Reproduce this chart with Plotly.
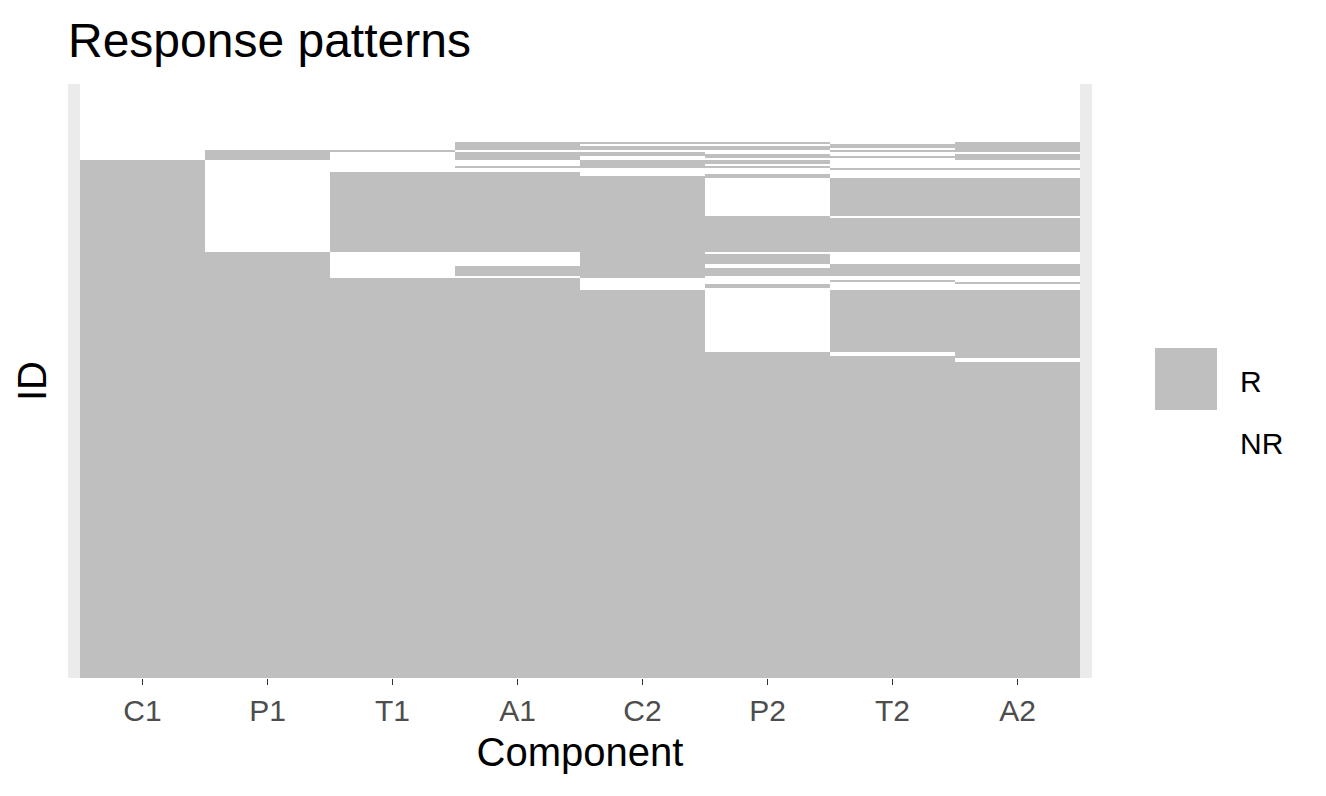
import plotly.graph_objects as go

# ---- data ----
components = ["C1", "P1", "T1", "A1", "C2", "P2", "T2", "A2"]
# groups of IDs (top to bottom): number of IDs and response pattern (1 = R, 0 = NR)
group_counts = [29, 1, 1, 1, 1, 1, 1, 1, 1, 1, 2, 1, 1, 1, 1, 1, 1, 1, 19, 1, 17,
                1, 5, 1, 1, 4, 1, 1, 1, 1, 2, 1, 31, 2, 1, 2, 158]
group_patterns = ["00000000", "00011101", "00010011", "00011111", "00011101",
                  "01100011", "01011000", "01011101", "01010111", "01010001",
                  "10001100", "10001000", "10011100", "10000011", "10000000",
                  "10110000", "10110100", "10111100", "10111011", "10111100",
                  "10111111", "11001000", "11001100", "11001011", "11011011",
                  "11011111", "11001000", "11110000", "11110010", "11110001",
                  "11110100", "11110000", "11111011", "11111101", "11111111",
                  "11111110", "11111111"]
legend_labels = ["R", "NR"]

# ---- build matrix ----
z = []
for cnt, pat in zip(group_counts, group_patterns):
    for _ in range(cnt):
        z.append([int(c) for c in pat])
n_ids = len(z)
ids = list(range(1, n_ids + 1))

GREY = "#BFBFBF"
OFF = 8  # page body margin
W, H = 1326 - OFF, 796 - OFF
L, R, T, B = 68 - OFF, 1092 - OFF, 84 - OFF, 678 - OFF

fig = go.Figure()
fig.add_trace(go.Heatmap(
    z=z, x=components, y=ids,
    colorscale=[[0, "#FFFFFF"], [0.5, "#FFFFFF"], [0.5, GREY], [1, GREY]],
    zmin=0, zmax=1, showscale=False, xgap=0, ygap=0,
    hovertemplate="ID %{y}<br>%{x}: %{z}<extra></extra>",
))

ex = 12 / 125.0
fig.update_xaxes(
    range=[-0.5 - ex, len(components) - 0.5 + ex],
    showgrid=False, zeroline=False, showline=False,
    ticks="outside", ticklen=6, tickwidth=1.2, tickcolor="#333333",
    tickfont=dict(size=30, color="#4D4D4D", family="Liberation Sans"),
    title=dict(text="Component", font=dict(size=40, color="#000000", family="Liberation Sans"), standoff=11),
)
fig.update_yaxes(
    range=[n_ids + 0.5, 0.5],
    showgrid=False, zeroline=False, showline=False,
    showticklabels=False, ticks="",
    title=dict(text="ID", font=dict(size=40, color="#000000", family="Liberation Sans"), standoff=8),
)

def px(x):
    return (x - OFF - L) / (R - L)

def py(y):
    return (B - (y - OFF)) / (B - T)

shapes = [
    dict(type="rect", xref="paper", yref="paper", x0=px(1155), x1=px(1217), y0=py(410), y1=py(348),
         fillcolor=GREY, line=dict(width=0), layer="above"),
    dict(type="rect", xref="paper", yref="paper", x0=px(1155), x1=px(1217), y0=py(472), y1=py(410),
         fillcolor="#FFFFFF", line=dict(width=0), layer="above"),
]
annotations = [
    dict(text=legend_labels[0], xref="paper", yref="paper", x=px(1238), y=py(381), xanchor="left", yanchor="middle",
         showarrow=False, font=dict(size=30, color="#000000", family="Liberation Sans")),
    dict(text=legend_labels[1], xref="paper", yref="paper", x=px(1238), y=py(443), xanchor="left", yanchor="middle",
         showarrow=False, font=dict(size=30, color="#000000", family="Liberation Sans")),
]

fig.update_layout(
    width=W, height=H,
    margin=dict(l=L, r=W - R, t=T, b=H - B),
    paper_bgcolor="#FFFFFF", plot_bgcolor="#EBEBEB",
    title=dict(text="Response patterns", x=(68 - OFF) / W, xanchor="left", xref="container",
               y=1 - (40 - OFF) / H, yanchor="middle", yref="container",
               font=dict(size=48, color="#000000", family="Liberation Sans")),
    shapes=shapes, annotations=annotations, showlegend=False,
)

fig.write_html("out.html")
